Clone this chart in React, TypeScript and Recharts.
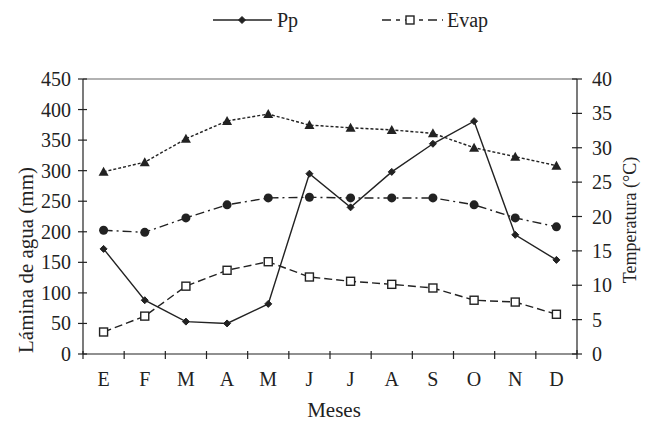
import React from 'react';
import { LineChart, Line, XAxis, YAxis, ReferenceLine, Legend } from 'recharts';

const months = ['E', 'F', 'M', 'A', 'M', 'J', 'J', 'A', 'S', 'O', 'N', 'D'];
const pp = [172, 88, 53, 50, 82, 295, 240, 298, 344, 381, 195, 154];
const evap = [36, 62, 111, 137, 151, 126, 119, 114, 108, 88, 85, 65];
const tmax = [26.5, 27.9, 31.3, 33.9, 34.9, 33.3, 32.9, 32.6, 32.1, 30.0, 28.7, 27.4];
const tmed = [18.0, 17.7, 19.8, 21.7, 22.7, 22.8, 22.7, 22.7, 22.7, 21.7, 19.8, 18.5];
const leftTicks = [0, 50, 100, 150, 200, 250, 300, 350, 400, 450];
const rightTicks = [0, 5, 10, 15, 20, 25, 30, 35, 40];

const data = months.map((m, i) => ({ month: m, pp: pp[i], evap: evap[i], tmax: tmax[i], tmed: tmed[i] }));

const W = 650;
const H = 423;
const FONT = 'Liberation Serif';
const LEGEND_H = 30;
const MARGIN = { top: 79 - LEGEND_H, right: 23, left: 23, bottom: 39 };
const YL_W = 60;
const YR_W = 50;
const XH = 30;
const PLOT_LEFT = MARGIN.left + YL_W;
const PLOT_RIGHT = W - MARGIN.right - YR_W;
const PLOT_BOTTOM = H - MARGIN.bottom - XH;
const BAND = (PLOT_RIGHT - PLOT_LEFT) / months.length;
const INK = '#222';

const CSS = `body{margin:0;background:#fff}
.chart-root, .chart-root *, .chart-root text { font-family: 'Liberation Serif', serif !important; }`;

const LeftTick = (props: any) => {
  const { y, payload } = props;
  return (
    <g>
      <line x1={PLOT_LEFT - 5} x2={PLOT_LEFT + 4} y1={y} y2={y} stroke={INK} strokeWidth={1.2} />
      <text x={PLOT_LEFT - 12} y={y} dy="0.35em" textAnchor="end" fontFamily={FONT} fontSize={20} fill={INK}>
        {payload.value}
      </text>
    </g>
  );
};

const RightTick = (props: any) => {
  const { y, payload } = props;
  return (
    <g>
      <line x1={PLOT_RIGHT - 5} x2={PLOT_RIGHT + 5} y1={y} y2={y} stroke={INK} strokeWidth={1.2} />
      <text x={PLOT_RIGHT + 15} y={y} dy="0.35em" textAnchor="start" fontFamily={FONT} fontSize={20} fill={INK}>
        {payload.value}
      </text>
    </g>
  );
};

const XTick = (props: any) => {
  const { x, payload, index } = props;
  return (
    <g>
      <line x1={x - BAND / 2} x2={x - BAND / 2} y1={PLOT_BOTTOM - 3} y2={PLOT_BOTTOM + 5} stroke={INK} strokeWidth={1.2} />
      {index === months.length - 1 && (
        <line x1={x + BAND / 2} x2={x + BAND / 2} y1={PLOT_BOTTOM - 4} y2={PLOT_BOTTOM + 5} stroke={INK} strokeWidth={1.2} />
      )}
      <text x={x} y={PLOT_BOTTOM + 25} dy="0.35em" textAnchor="middle" fontFamily={FONT} fontSize={20} fill={INK}>
        {payload.value}
      </text>
    </g>
  );
};

const Diamond = ({ cx, cy, s = 3.5 }: any) => (
  <path d={`M${cx},${cy - s} L${cx + s},${cy} L${cx},${cy + s} L${cx - s},${cy} Z`} fill={INK} stroke={INK} strokeWidth={1} />
);
const Square = ({ cx, cy, s = 4 }: any) => (
  <rect x={cx - s} y={cy - s} width={2 * s} height={2 * s} fill="#fff" stroke={INK} strokeWidth={1.4} />
);
const Triangle = ({ cx, cy, s = 5 }: any) => (
  <path d={`M${cx},${cy - s} L${cx + s},${cy + s * 0.8} L${cx - s},${cy + s * 0.8} Z`} fill={INK} />
);
const Circle = ({ cx, cy }: any) => <circle cx={cx} cy={cy} r={4.5} fill={INK} />;

const dotFn = (Shape: any) => (p: any) => <Shape key={`d-${p.dataKey}-${p.index}`} cx={p.cx} cy={p.cy} />;

const LegendContent = () => (
  <svg width={W} height={LEGEND_H}>
    <line x1={213} x2={272} y1={15} y2={15} stroke={INK} strokeWidth={1.5} />
    <Diamond cx={242} cy={15} s={3.5} />
    <text x={277} y={15} dy="0.35em" fontFamily={FONT} fontSize={20} fill={INK}>Pp</text>
    <line x1={382} x2={443} y1={15} y2={15} stroke={INK} strokeWidth={1.5} strokeDasharray="9 5 4 5" />
    <Square cx={410} cy={15} s={4} />
    <text x={447} y={15} dy="0.35em" fontFamily={FONT} fontSize={20} fill={INK}>Evap</text>
  </svg>
);

const LeftTitle = () => (
  <text transform="translate(26,260) rotate(-90)" dy="0.35em" textAnchor="middle" fontFamily={FONT} fontSize={21} fill={INK}>
    Lámina de agua (mm)
  </text>
);
const RightTitle = () => (
  <text transform="translate(630,220) rotate(-90)" dy="0.35em" textAnchor="middle" fontFamily={FONT} fontSize={18} fill={INK}>
    Temperatura (°C)
  </text>
);
const XTitle = () => (
  <text x={334} y={410} dy="0.35em" textAnchor="middle" fontFamily={FONT} fontSize={21} fill={INK}>
    Meses
  </text>
);

export default function App() {
  return (
    <div className="chart-root" style={{ width: W, height: H, background: '#fff', fontFamily: FONT }}>
      <style>{CSS}</style>
      <LineChart width={W} height={H} data={data} margin={MARGIN} style={{ fontFamily: FONT }}>
        <Legend
          verticalAlign="top"
          height={LEGEND_H}
          content={<LegendContent />}
          wrapperStyle={{ top: 5, left: 0, width: W, height: LEGEND_H }}
        />
        <XAxis
          dataKey="month"
          height={XH}
          padding={{ left: BAND / 2, right: BAND / 2 }}
          axisLine={{ stroke: INK, strokeWidth: 1.2 }}
          tickLine={false}
          tick={<XTick />}
          interval={0}
          label={<XTitle />}
        />
        <YAxis
          yAxisId="left"
          orientation="left"
          width={YL_W}
          domain={[0, 450]}
          ticks={leftTicks}
          axisLine={{ stroke: INK, strokeWidth: 1.2 }}
          tickLine={false}
          tick={<LeftTick />}
          interval={0}
          label={<LeftTitle />}
        />
        <YAxis
          yAxisId="right"
          orientation="right"
          width={YR_W}
          domain={[0, 40]}
          ticks={rightTicks}
          axisLine={{ stroke: INK, strokeWidth: 1.2 }}
          tickLine={false}
          tick={<RightTick />}
          interval={0}
          label={<RightTitle />}
        />
        <ReferenceLine yAxisId="left" y={450} stroke="#666" strokeWidth={1.2} />
        <Line yAxisId="right" dataKey="tmax" stroke={INK} strokeWidth={1.4} strokeDasharray="3 2" dot={dotFn(Triangle)} activeDot={false} isAnimationActive={false} />
        <Line yAxisId="right" dataKey="tmed" stroke={INK} strokeWidth={1.4} strokeDasharray="9 4 2 4" dot={dotFn(Circle)} activeDot={false} isAnimationActive={false} />
        <Line yAxisId="left" dataKey="evap" stroke={INK} strokeWidth={1.4} strokeDasharray="8 4" dot={dotFn(Square)} activeDot={false} isAnimationActive={false} />
        <Line yAxisId="left" dataKey="pp" stroke={INK} strokeWidth={1.4} dot={dotFn(Diamond)} activeDot={false} isAnimationActive={false} />
      </LineChart>
    </div>
  );
}
